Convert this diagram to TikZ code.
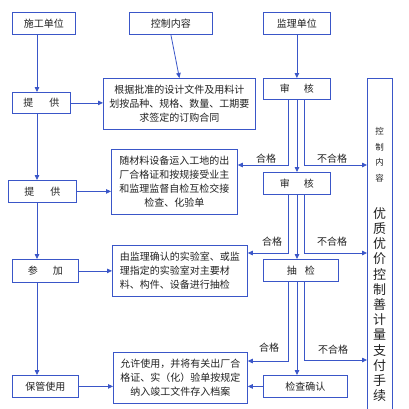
\documentclass[tikz,border=0pt]{standalone}
\usepackage{fontspec}
\newfontfamily\cjk{Noto Sans CJK SC}
\usetikzlibrary{arrows.meta,calc}
\definecolor{bcol}{HTML}{3A56C8}
\definecolor{tcol}{HTML}{222222}
\begin{document}
\begin{tikzpicture}[x=1pt,y=-1pt,
  box/.style={draw=bcol, line width=0.8pt, inner sep=0pt, anchor=north west, align=center, text=tcol,
    font=\cjk\fontsize{10}{14}\selectfont},
  lbl/.style={inner sep=0pt, text=tcol, font=\cjk\fontsize{10}{12}\selectfont},
  arr/.style={draw=bcol, line width=0.8pt, -{Triangle[length=5pt,width=4.5pt]}},
  vsmall/.style={inner sep=0pt, text=tcol, font=\cjk\fontsize{8.5}{10}\selectfont},
  vbig/.style={inner sep=0pt, text=tcol, font=\cjk\fontsize{13}{14}\selectfont}]
\useasboundingbox (0,0) rectangle (409,408);
\clip (0,0) rectangle (409,408);
\fill[white] (0,0) rectangle (409,408);
% top row
\node[box, minimum width=63pt, minimum height=22pt] (sg) at (12,12) {施工单位};
\node[box, minimum width=83pt, minimum height=22pt] (kz) at (129,12) {控制内容};
\node[box, minimum width=67pt, minimum height=22pt] (jl) at (263,12) {监理单位};
% left column
\node[box, minimum width=58pt, minimum height=21pt] (tg1) at (12,92) {提\hspace{1.6em}供};
\node[box, minimum width=68pt, minimum height=22pt] (tg2) at (8,180) {提\hspace{1.6em}供};
\node[box, minimum width=66pt, minimum height=23pt] (cj) at (12,259) {参\hspace{1.5em}加};
\node[box, minimum width=66pt, minimum height=22pt] (bg) at (12,375) {保管使用};
% text boxes
\node[box, minimum width=152pt, minimum height=51pt] (t1) at (103,78)
  {根据批准的设计文件及用料计\\划按品种、规格、数量、工期要\\求签定的订购合同};
\node[box, minimum width=126pt, minimum height=65pt] (t2) at (111,149)
  {随材料设备运入工地的出\\厂合格证和按规接受业主\\和监理监督自检互检交接\\检查、化验单};
\node[box, minimum width=135pt, minimum height=51pt, align=left] (t3) at (112,245)
  {由监理确认的实验室、或监\\理指定的实验室对主要材\\料、构件、设备进行抽检};
\node[box, minimum width=134pt, minimum height=51pt] (t4) at (113,352)
  {允许使用，并将有关出厂合\\格证、实（化）验单按规定\\纳入竣工文件存入档案};
% right chain
\node[box, minimum width=67pt, minimum height=21pt] (sh1) at (263,78) {审\hspace{1.4em}核};
\node[box, minimum width=67pt, minimum height=22pt] (sh2) at (263,172) {审\hspace{1.4em}核};
\node[box, minimum width=75pt, minimum height=22pt] (cj2) at (263,259) {抽\hspace{0.8em}检};
\node[box, minimum width=84pt, minimum height=22pt] (jc) at (263,375) {检查确认};
% right tall box
\node[box, minimum width=25pt, minimum height=334pt] (rb) at (367,78) {};
\foreach \c [count=\i] in {控,制,内,容}
  \node[vsmall] (rs\i) at (379.5,{131.7+15.5*(\i-1)}) {\c};
\foreach \c [count=\i] in {优,质,优,价,控,制,善,计,量,支,付,手,续}
  \node[vbig] (rl\i) at (379.5,{213.3+15.2*(\i-1)}) {\c};
% helper coordinates
\coordinate (lx) at (37,0);
\coordinate (xa) at (288,0);
\coordinate (xm) at (297,0);
\coordinate (xb) at (304,0);
\coordinate (a1) at (288,165);
\coordinate (b1) at (304,165);
\coordinate (a2) at (288,253);
\coordinate (b2) at (304,253);
\coordinate (a3) at (288,361);
\coordinate (b3) at (304,360);
% left connectors
\draw[arr] (sg.south -| lx) -- (tg1.north -| lx);
\draw[arr] (tg1.south -| lx) -- (tg2.north -| lx);
\draw[arr] (tg2.south -| lx) -- (cj.north -| lx);
\draw[arr] (cj.south -| lx) -- (bg.north -| lx);
\draw[arr] (tg1.east) -- (tg1.east -| t1.west);
\draw[arr] (tg2.east) -- (tg2.east -| t2.west);
\draw[arr] (cj.east) -- (cj.east -| t3.west);
\draw[arr] (bg.east) -- (bg.east -| t4.west);
% top connectors
\draw[arr] (kz.south) -- (t1.north);
\draw[arr] (jl.south) -- (sh1.north);
% stage 1
\draw[arr] (sh1.south -| xm) -- (sh2.north -| xm);
\draw[arr] (sh1.south -| a1) |- (a1 -| t2.east);
\draw[arr] (sh1.south -| b1) |- (b1 -| rb.west);
% stage 2
\draw[arr] (sh2.south -| xm) -- (cj2.north -| xm);
\draw[arr] (sh2.south -| a2) |- (a2 -| t3.east);
\draw[arr] (sh2.south -| b2) |- (b2 -| rb.west);
% stage 3
\draw[arr] (cj2.south -| xm) -- (jc.north -| xm);
\draw[arr] (cj2.south -| a3) |- (a3 -| t4.east);
\draw[arr] (cj2.south -| b3) |- (b3 -| rb.west);
\draw[arr] (jc.west) -- (jc.west -| t4.east);
% labels
\node[lbl] (hg1) at (266,159) {合格};
\node[lbl] (bh1) at (332,159) {不合格};
\node[lbl] (hg2) at (272,242) {合格};
\node[lbl] (bh2) at (332,242) {不合格};
\node[lbl] (hg3) at (269,348) {合格};
\node[lbl] (bh3) at (333,350) {不合格};
\end{tikzpicture}
\end{document}
